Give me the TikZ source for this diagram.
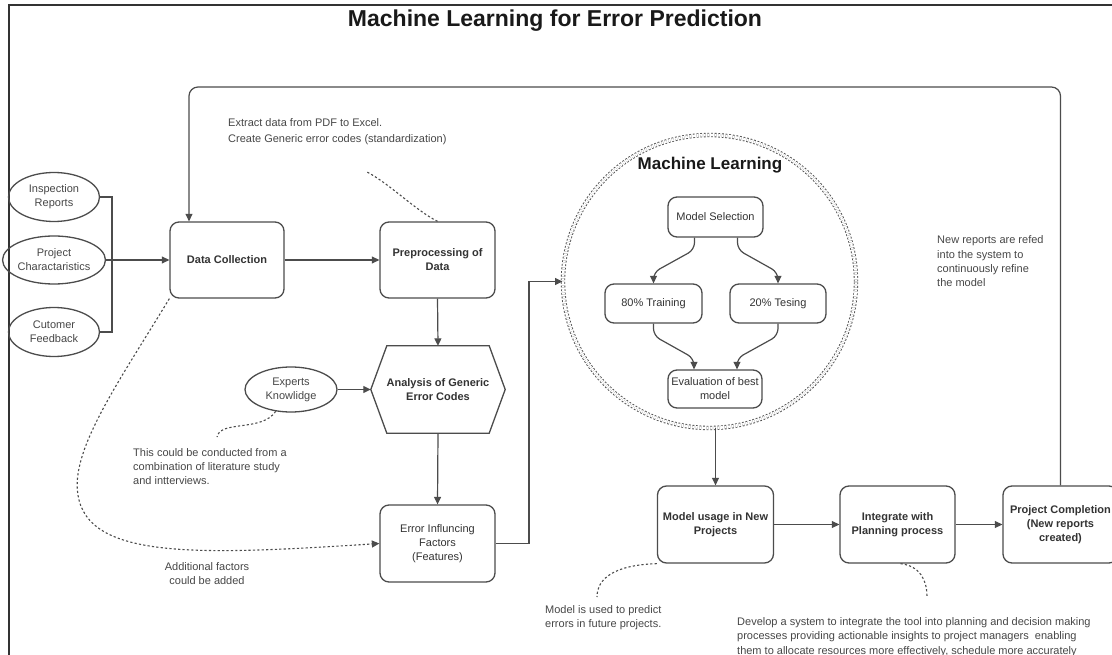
\documentclass[tikz,border=0pt]{standalone}
\usepackage{fontspec}
\setmainfont{Liberation Sans}
\usetikzlibrary{arrows.meta,calc,shapes.geometric}
\definecolor{lc}{gray}{0.30}
\definecolor{tc}{gray}{0.20}
\definecolor{nc}{gray}{0.28}
\begin{document}
\begin{tikzpicture}[x=1pt,y=-1pt,
  ln/.style={draw=lc, line width=1.2pt},
  arr/.style={ln, -{Triangle[length=7.5pt,width=7pt]}},
  noteline/.style={draw=lc, line width=1.1pt, dash pattern=on 2.2pt off 2.2pt},
  rbox/.style={draw=lc, line width=1.3pt, rounded corners=9pt, fill=white, text=tc,
    align=center, inner sep=0pt, font=\fontsize{11}{14}\selectfont},
  bbox/.style={rbox, font=\fontsize{11}{14}\selectfont\bfseries},
  ell/.style={ellipse, draw=lc, line width=1.3pt, text=nc, align=center, inner sep=0pt,
    font=\fontsize{11}{14}\selectfont},
  note/.style={text=nc, inner sep=0pt, font=\fontsize{11}{14}\selectfont}
]
\clip (0,0) rectangle (1112,655);
\fill[white] (0,0) rectangle (1112,655);

% frame
\draw[draw=black!80, line width=1.3pt] (9,655) -- (9,5) -- (1112,5);

% title
\node[text=black!90, inner sep=0pt, font=\fontsize{23}{28}\selectfont\bfseries] (title) at (555,21) {Machine Learning for Error Prediction};

% sources
\node[ell, minimum width=91pt, minimum height=49pt] (e1) at (54,197) {Inspection\\Reports};
\node[ell, minimum width=91pt, minimum height=48pt] (e2) at (54,260) {Project\\Charactaristics};
\node[ell, minimum width=91pt, minimum height=49pt] (e3) at (54,332) {Cutomer\\Feedback};

% main boxes
\node[bbox, minimum width=114pt, minimum height=76pt] (dc) at (227,260) {Data Collection};
\node[bbox, minimum width=115pt, minimum height=76pt] (pre) at (437.5,260) {Preprocessing of\\Data};
\node[inner sep=0pt, minimum width=134pt, minimum height=87pt, align=center, text=tc,
      font=\fontsize{11}{14}\selectfont\bfseries] (an) at (438,389.5) {Analysis of Generic\\Error Codes};
\draw[ln, line width=1.3pt] (an.west) -- ([xshift=16pt]an.north west) -- ([xshift=-16pt]an.north east)
   -- (an.east) -- ([xshift=-16pt]an.south east) -- ([xshift=16pt]an.south west) -- cycle;
\node[ell, minimum width=92pt, minimum height=45pt] (ek) at (291,389.5) {Experts\\Knowlidge};
\node[rbox, minimum width=115pt, minimum height=77pt] (eif) at (437.5,543.5) {Error Influncing\\Factors\\(Features)};

% machine learning circle
\node[circle, minimum size=293pt, inner sep=0pt, draw=lc, double=white, double distance=2.6pt,
      line width=0.9pt, dash pattern=on 1.8pt off 1.8pt] (ml) at (709.5,281.5) {};
\node[text=black!90, inner sep=0pt, font=\fontsize{17}{20}\selectfont\bfseries] (mlt) at (710,165) {Machine Learning};
\node[rbox, minimum width=95pt, minimum height=40pt] (ms) at (715.5,217) {Model Selection};
\node[rbox, minimum width=97pt, minimum height=39pt] (tr) at (653.5,303.5) {80\% Training};
\node[rbox, minimum width=96pt, minimum height=39pt] (te) at (778,303.5) {20\% Tesing};
\node[rbox, minimum width=94pt, minimum height=38pt] (ev) at (715,389) {Evaluation of best\\model};

% bottom row
\node[bbox, minimum width=116pt, minimum height=77pt] (mu) at (715.5,524.5) {Model usage in New\\Projects};
\node[bbox, minimum width=115pt, minimum height=77pt] (ip) at (897.5,524.5) {Integrate with\\Planning process};
\node[bbox, minimum width=115pt, minimum height=77pt] (pc) at (1060.5,524.5) {Project Completion\\(New reports\\created)};

% connectors
\coordinate (br) at (112,260);
\draw[ln] (e1.east) -| (br) |- (e3.east);
\draw[arr] (e2.east) -- (dc.west);
\draw[arr] (dc.east) -- (pre.west);
\draw[arr] (pre.south) -- (an.north);
\draw[arr] (ek.east) -- (an.west);
\draw[arr] (an.south) -- (eif.north);
\coordinate (k) at (529,281.5);
\draw[arr] (eif.east) -| (k) -- (ml.west);
\draw[arr, rounded corners=7pt] ([xshift=-21pt]ms.south) -- ++(0,12) -- ($(tr.north)+(0,-11)$) -- (tr.north);
\draw[arr, rounded corners=7pt] ([xshift=22pt]ms.south) -- ++(0,12) -- ($(te.north)+(0,-11)$) -- (te.north);
\draw[arr, rounded corners=7pt] (tr.south) -- ++(0,12) -- ($([xshift=-21pt]ev.north)+(0,-11)$) -- ([xshift=-21pt]ev.north);
\draw[arr, rounded corners=7pt] (te.south) -- ++(0,12) -- ($([xshift=22pt]ev.north)+(0,-11)$) -- ([xshift=22pt]ev.north);
\draw[arr] (ml.south -| mu.north) -- (mu.north);
\draw[arr] (mu.east) -- (ip.west);
\draw[arr] (ip.east) -- (pc.west);
\coordinate (lr) at (1060.5,87);
\coordinate (lt) at (189,87);
\draw[arr, rounded corners=9pt] (pc.north) -- (lr) -- (lt) -- (lt |- dc.north);

% annotation curves
\coordinate (n1) at (367,172);
\draw[noteline] (pre.north) .. controls (415,210) and (390,184) .. (n1);
\coordinate (n2) at (217,437);
\draw[noteline] (ek.235) .. controls (262,432) and (220,420) .. (n2);
\draw[noteline, -{Triangle[length=7.5pt,width=7pt]}] (dc.south west) .. controls (120,380) and (70,450) .. (78,495)
   .. controls (88,560) and (200,555) .. (eif.west);
\coordinate (n4) at (597,597);
\draw[noteline] (mu.south west) .. controls (615,565) and (597,578) .. (n4);
\coordinate (n5) at (927,597);
\draw[noteline] ([xshift=3pt]ip.south) .. controls (920,566) and (927,580) .. (n5);

% notes
\node[note, anchor=west, align=left, font=\fontsize{11}{16}\selectfont] (t1) at (228,132)
  {Extract data from PDF to Excel.\\Create Generic error codes (standardization)};
\node[note, anchor=west, align=left] (t2) at (133,467)
  {This could be conducted from a\\combination of literature study\\and intterviews.};
\node[note, align=center] (t3) at (207,574) {Additional factors\\could be added};
\node[note, anchor=west, align=left] (t4) at (545,617.5) {Model is used to predict\\errors in future projects.};
\node[note, anchor=west, align=left, font=\fontsize{11}{14.8}\selectfont] (t5) at (737,637)
  {Develop a system to integrate the tool into planning and decision making\\processes providing actionable insights to project managers\ \ enabling\\them to allocate resources more effectively, schedule more accurately};
\node[note, anchor=west, align=left, font=\fontsize{11}{14.3}\selectfont] (t6) at (937,261.5)
  {New reports are refed\\into the system to\\continuously refine\\the model};
\end{tikzpicture}
\end{document}
